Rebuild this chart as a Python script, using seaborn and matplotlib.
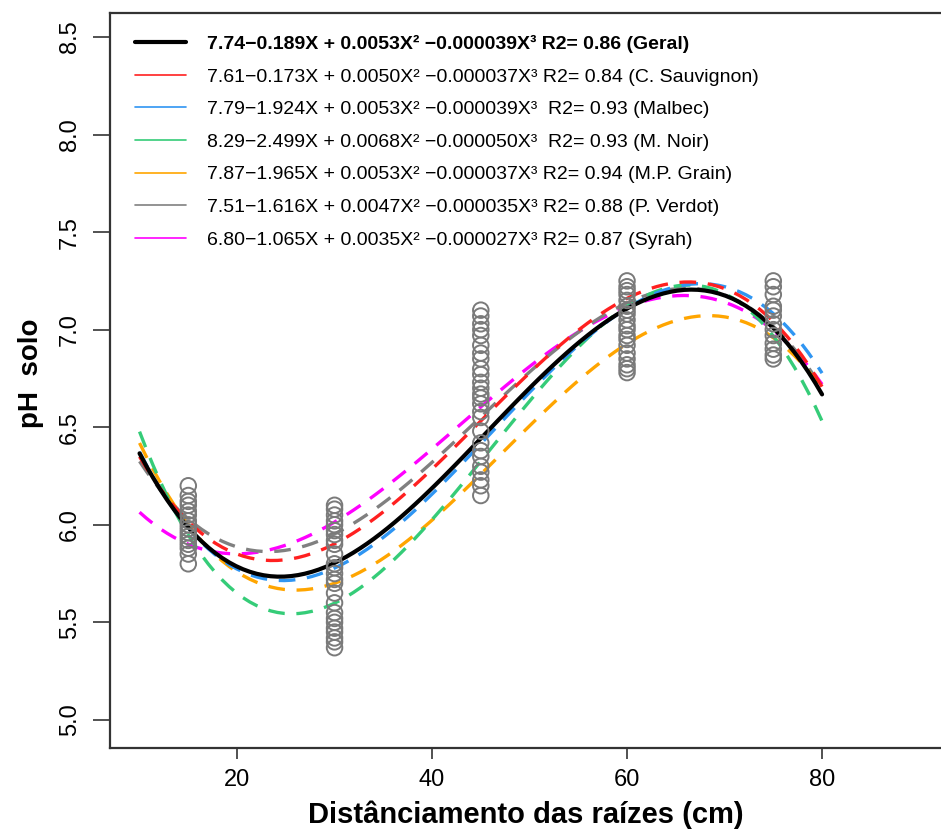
import numpy as np
import pandas as pd
import matplotlib
matplotlib.use("Agg")
import matplotlib.pyplot as plt
import seaborn as sns
from matplotlib.lines import Line2D

sns.set_style("white")
plt.rcParams['font.family'] = ['Liberation Sans', 'DejaVu Sans']
plt.rcParams['text.color'] = 'black'
plt.rcParams['xtick.color'] = 'black'
plt.rcParams['ytick.color'] = 'black'
plt.rcParams['axes.labelcolor'] = 'black'

# --- data ---
# observed pH values per root distance (gray circles)
dist_15 = [6.20, 6.15, 6.12, 6.10, 6.07, 6.05, 6.02, 6.00, 5.98, 5.96, 5.94, 5.92, 5.90, 5.88, 5.85, 5.80]
dist_30 = [6.10, 6.08, 6.05, 6.02, 6.00, 5.97, 5.95, 5.92, 5.90, 5.85, 5.80, 5.78, 5.75, 5.72,
           5.70, 5.65, 5.60, 5.55, 5.52, 5.50, 5.47, 5.45, 5.42, 5.40, 5.37]
dist_45 = [7.10, 7.07, 7.03, 7.00, 6.97, 6.92, 6.88, 6.85, 6.80, 6.77, 6.73, 6.70, 6.67, 6.65,
           6.62, 6.58, 6.55, 6.48, 6.42, 6.38, 6.35, 6.30, 6.27, 6.23, 6.20, 6.15]
dist_60 = [7.25, 7.22, 7.20, 7.18, 7.15, 7.12, 7.10, 7.08, 7.05, 7.02, 7.00, 6.97, 6.95, 6.92,
           6.88, 6.85, 6.82, 6.80, 6.78]
dist_75 = [7.25, 7.22, 7.18, 7.12, 7.10, 7.07, 7.03, 7.00, 6.97, 6.93, 6.90, 6.87, 6.85]

# fitted curves at these distances
curve_x = [10, 15, 20, 25, 30, 35, 40, 45, 50, 55, 60, 65, 70, 75, 80]
geral        = [6.36, 6.00, 5.78, 5.735, 5.80, 5.96, 6.19, 6.46, 6.70, 6.92, 7.10, 7.20, 7.18, 7.02, 6.66]
c_sauvignon  = [6.35, 6.01, 5.86, 5.82, 5.90, 6.06, 6.29, 6.54, 6.78, 6.99, 7.15, 7.24, 7.22, 7.05, 6.70]
malbec       = [6.37, 5.99, 5.77, 5.72, 5.77, 5.93, 6.16, 6.43, 6.68, 6.91, 7.10, 7.22, 7.23, 7.09, 6.77]
m_noir       = [6.43, 6.02, 5.65, 5.54, 5.58, 5.77, 6.01, 6.33, 6.64, 6.91, 7.11, 7.23, 7.20, 6.97, 6.52]
mp_grain     = [6.39, 6.04, 5.77, 5.66, 5.70, 5.80, 6.02, 6.27, 6.51, 6.74, 6.93, 7.05, 7.07, 6.95, 6.70]
p_verdot     = [6.34, 6.02, 5.88, 5.86, 5.94, 6.12, 6.33, 6.57, 6.80, 6.98, 7.12, 7.19, 7.18, 7.03, 6.70]
syrah        = [6.06, 5.91, 5.85, 5.89, 6.01, 6.19, 6.39, 6.61, 6.81, 6.98, 7.11, 7.18, 7.15, 6.99, 6.72]

labels = [
    "7.74\u22120.189X + 0.0053X\u00b2 \u22120.000039X\u00b3 R2= 0.86 (Geral)",
    "7.61\u22120.173X + 0.0050X\u00b2 \u22120.000037X\u00b3 R2= 0.84 (C. Sauvignon)",
    "7.79\u22121.924X + 0.0053X\u00b2 \u22120.000039X\u00b3  R2= 0.93 (Malbec)",
    "8.29\u22122.499X + 0.0068X\u00b2 \u22120.000050X\u00b3  R2= 0.93 (M. Noir)",
    "7.87\u22121.965X + 0.0053X\u00b2 \u22120.000037X\u00b3 R2= 0.94 (M.P. Grain)",
    "7.51\u22121.616X + 0.0047X\u00b2 \u22120.000035X\u00b3 R2= 0.88 (P. Verdot)",
    "6.80\u22121.065X + 0.0035X\u00b2 \u22120.000027X\u00b3 R2= 0.87 (Syrah)",
]
colors = ["black", "#FF2020", "#2F95F2", "#35CC78", "#FFA500", "#808080", "#FF00FF"]

# long table of the points
obs = pd.DataFrame({
    "dist": [15] * len(dist_15) + [30] * len(dist_30) + [45] * len(dist_45)
            + [60] * len(dist_60) + [75] * len(dist_75),
    "ph": dist_15 + dist_30 + dist_45 + dist_60 + dist_75,
})

fig = plt.figure(figsize=(9.41, 8.31), dpi=100)
ax = fig.add_axes([110 / 941, 83 / 831, 831 / 941, 735 / 831])

# cubic curves, dashed for each cultivar, solid black for the overall fit
series = [geral, c_sauvignon, malbec, m_noir, mp_grain, p_verdot, syrah]
for i in range(len(series) - 1, -1, -1):
    if i == 0:
        kws = dict(color=colors[i], lw=3.0, zorder=4)
    else:
        kws = dict(color=colors[i], lw=2.4, ls=(0, (5, 3.5)), zorder=3)
    sns.regplot(x=curve_x, y=series[i], order=3, ci=None, scatter=False,
                line_kws=kws, ax=ax)

sns.scatterplot(data=obs, x="dist", y="ph", marker="o", s=125,
                facecolor="none", edgecolor="#7a7a7a", linewidth=1.4, ax=ax, zorder=5)

ax.set_xlim(6.97, 92.2)
ax.set_ylim(4.856, 8.623)
ax.set_xticks([20, 40, 60, 80])
ax.set_yticks([5.0, 5.5, 6.0, 6.5, 7.0, 7.5, 8.0, 8.5])
ax.set_yticklabels(["5.0", "5.5", "6.0", "6.5", "7.0", "7.5", "8.0", "8.5"],
                   rotation=90, va="center", fontsize=17)
ax.set_xticklabels(["20", "40", "60", "80"], fontsize=17)
ax.tick_params(axis="y", direction="out", length=12, width=1.2, pad=9, left=True, color="#333333")
ax.tick_params(axis="x", direction="out", length=8, width=1.2, pad=7, bottom=True, color="#333333")

for side in ["left", "bottom", "top"]:
    ax.spines[side].set_color("#333333")
    ax.spines[side].set_linewidth(1.6)
ax.spines["right"].set_visible(False)

ax.set_xlabel("Distânciamento das raízes (cm)", fontsize=21, fontweight="bold", labelpad=7)
ax.set_ylabel("pH  solo", fontsize=20, fontweight="bold", labelpad=10)
ax.yaxis.set_label_coords(-0.08, 0.51)

# legend with thin solid lines
handles = [Line2D([], [], color=colors[0], lw=3.0)]
handles += [Line2D([], [], color=c, lw=1.2) for c in colors[1:]]
leg = ax.legend(handles, labels, loc="upper left", bbox_to_anchor=(135 / 941, 1 - 35 / 831),
                bbox_transform=fig.transFigure, frameon=False, borderpad=0, borderaxespad=0,
                handlelength=2.6, handletextpad=1.1, labelspacing=0.77,
                prop={"size": 14})
leg.get_texts()[0].set_fontweight("bold")

plt.savefig("out.png", dpi=100)
